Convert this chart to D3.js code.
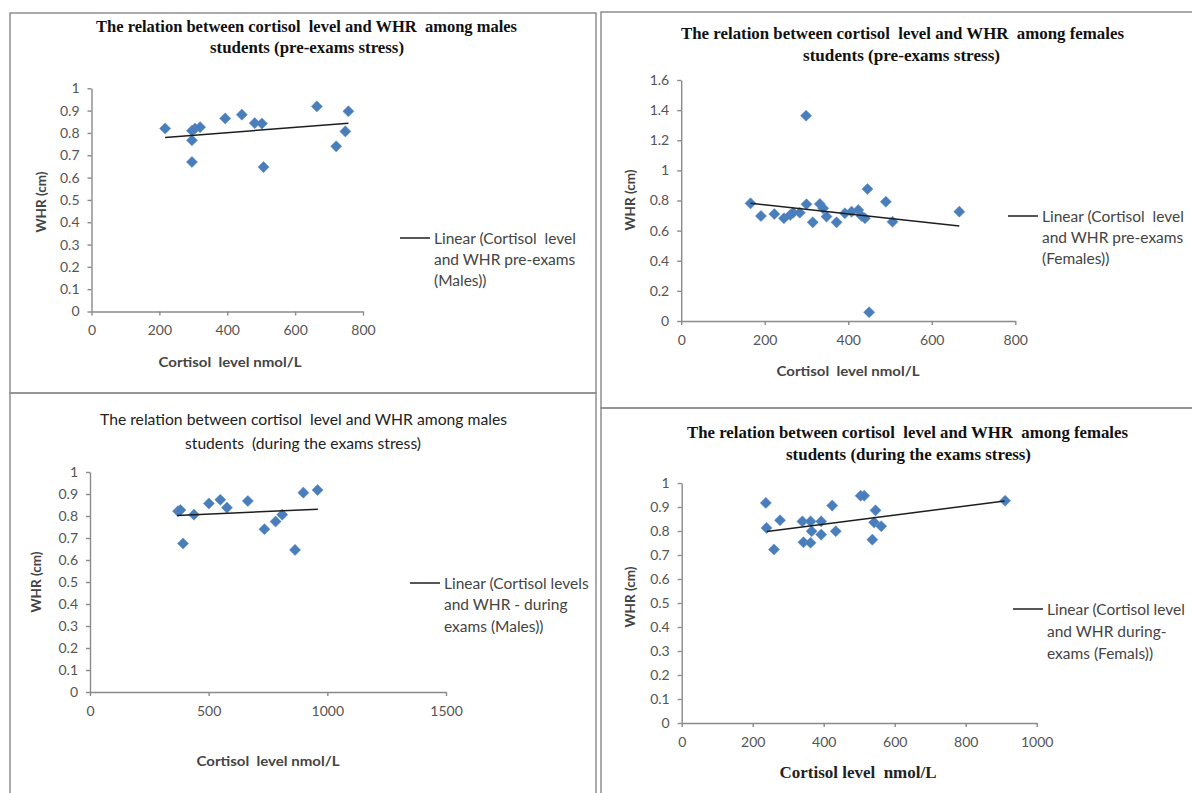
<!DOCTYPE html>
<html><head><meta charset="utf-8">
<script src="https://cdn.jsdelivr.net/npm/d3@7"></script>
<style>body{margin:0;background:#fff;} svg{display:block;} text{white-space:pre;}</style>
</head><body><svg id="c" width="1192" height="793"></svg>
<script>
// ---------- DATA ----------
// Panel 1: males, pre-exams
const p1Cortisol = [217, 296, 305, 320, 296, 296, 394, 443, 481, 502, 507, 664, 721, 748, 757];
const p1WHR      = [0.82, 0.81, 0.82, 0.826, 0.767, 0.67, 0.865, 0.882, 0.844, 0.842, 0.647, 0.919, 0.74, 0.807, 0.897];
const p1TrendX = [217, 757];
const p1TrendY = [0.780, 0.843];
// Panel 2: females, pre-exams
const p2Cortisol = [166,191,223,246,261,268,284,300,299,315,332,340,348,372,392,408,424,432,440,446,450,490,506,666];
const p2WHR      = [0.781,0.697,0.71,0.682,0.704,0.719,0.719,0.775,1.363,0.655,0.777,0.748,0.693,0.655,0.715,0.726,0.737,0.697,0.682,0.876,0.058,0.792,0.659,0.726];
const p2TrendX = [166, 666];
const p2TrendY = [0.781, 0.631];
// Panel 3: males, during exams
const p3Cortisol = [371,381,438,392,501,549,577,665,735,782,810,864,899,959];
const p3WHR      = [0.822,0.827,0.806,0.675,0.857,0.874,0.838,0.868,0.74,0.775,0.806,0.646,0.906,0.918];
const p3TrendX = [367, 960];
const p3TrendY = [0.802, 0.831];
// Panel 4: females, during exams
const p4Cortisol = [237,239,260,277,340,343,363,363,366,393,393,424,434,504,514,537,546,542,562,911];
const p4WHR      = [0.917,0.813,0.723,0.845,0.840,0.753,0.840,0.751,0.799,0.840,0.785,0.906,0.799,0.947,0.947,0.764,0.886,0.836,0.820,0.926];
const p4TrendX = [240, 910];
const p4TrendY = [0.798, 0.925];

// tick values
const xTicks800  = [0, 200, 400, 600, 800];
const xTicks1500 = [0, 500, 1000, 1500];
const xTicks1000 = [0, 200, 400, 600, 800, 1000];
const yTicks1    = [0, 0.1, 0.2, 0.3, 0.4, 0.5, 0.6, 0.7, 0.8, 0.9, 1];
const yTicks16   = [0, 0.2, 0.4, 0.6, 0.8, 1, 1.2, 1.4, 1.6];

// texts
const titles = [
  ["The relation between cortisol  level and WHR  among males", "students (pre-exams stress)"],
  ["The relation between cortisol  level and WHR  among females", "students (pre-exams stress)"],
  ["The relation between cortisol  level and WHR among males", "students  (during the exams stress)"],
  ["The relation between cortisol  level and WHR  among females", "students (during the exams stress)"]
];
const legends = [
  ["Linear (Cortisol  level", "and WHR pre-exams", "(Males))"],
  ["Linear (Cortisol  level", "and WHR pre-exams", "(Females))"],
  ["Linear (Cortisol levels", "and WHR - during", "exams (Males))"],
  ["Linear (Cortisol level", "and WHR during-", "exams (Femals))"]
];
const xTitles = ["Cortisol  level nmol/L", "Cortisol  level nmol/L", "Cortisol  level nmol/L", "Cortisol level  nmol/L"];
const yTitle = "WHR (cm)";

// ---------- DRAW ----------
const svg = d3.select("#c");
const SANS = "Lato, 'Open Sans', sans-serif";
const SERIF = "'Liberation Serif', 'DejaVu Serif', serif";
const AXIS_COL = "#8a8a8a";
const TEXT_COL = "#555";
const MARK = "#4a7ebb";

// panel borders
const borders = svg.append("g").attr("fill", "none").attr("stroke", "#8f8f8f").attr("stroke-width", 1.5);
borders.append("rect").attr("x", 10).attr("y", 13).attr("width", 586).attr("height", 380);
borders.append("rect").attr("x", 10).attr("y", 393).attr("width", 586).attr("height", 420);
borders.append("rect").attr("x", 601).attr("y", 12).attr("width", 620).attr("height", 396);
borders.append("rect").attr("x", 601).attr("y", 408).attr("width", 620).attr("height", 420);

const panels = [
  { xs: p1Cortisol, ys: p1WHR, tx: p1TrendX, ty: p1TrendY, xDom: [0, 800], xRange: [91.5, 363], yDom: [0, 1], yRange: [311.5, 88.3],
    xTicks: xTicks800, yTicks: yTicks1, title: titles[0], titleSerif: true, t1: [96, 517], t2: [210, 404], titleY: [26, 47],
    legend: legends[0], legX: 400, legY: [238, 259, 280], xTitle: xTitles[0], xTitleX: 230, xTitleY: 361, xTitleW: 143, xTitleSerif: false,
    yTitleX: 41, yTitleY: 202 },
  { xs: p2Cortisol, ys: p2WHR, tx: p2TrendX, ty: p2TrendY, xDom: [0, 800], xRange: [681.2, 1015.3], yDom: [0, 1.6], yRange: [321, 80],
    xTicks: xTicks800, yTicks: yTicks16, title: titles[1], titleSerif: true, t1: [681, 1124], t2: [803, 1000], titleY: [33, 55],
    legend: legends[1], legX: 1008, legY: [216, 237, 258], xTitle: xTitles[1], xTitleX: 848, xTitleY: 370, xTitleW: 143, xTitleSerif: false,
    yTitleX: 630, yTitleY: 200 },
  { xs: p3Cortisol, ys: p3WHR, tx: p3TrendX, ty: p3TrendY, xDom: [0, 1500], xRange: [90, 446], yDom: [0, 1], yRange: [692, 472],
    xTicks: xTicks1500, yTicks: yTicks1, title: titles[2], titleSerif: false, t1: [100, 507], t2: [185, 421], titleY: [419, 443],
    legend: legends[2], legX: 410, legY: [583, 604, 626], xTitle: xTitles[2], xTitleX: 268, xTitleY: 760, xTitleW: 143, xTitleSerif: false,
    yTitleX: 36, yTitleY: 582 },
  { xs: p4Cortisol, ys: p4WHR, tx: p4TrendX, ty: p4TrendY, xDom: [0, 1000], xRange: [681.7, 1036.7], yDom: [0, 1], yRange: [723, 483],
    xTicks: xTicks1000, yTicks: yTicks1, title: titles[3], titleSerif: true, t1: [687, 1128], t2: [786, 1031], titleY: [432, 454],
    legend: legends[3], legX: 1013, legY: [609, 631, 653], xTitle: xTitles[3], xTitleX: 858, xTitleY: 772, xTitleW: 157, xTitleSerif: true,
    yTitleX: 630, yTitleY: 597 }
];

const fmt = d3.format("~g");
const diamond = d3.symbol().type(d3.symbolSquare).size(62);

panels.forEach((p, i) => {
  const g = svg.append("g");
  const x = d3.scaleLinear().domain(p.xDom).range(p.xRange);
  const y = d3.scaleLinear().domain(p.yDom).range(p.yRange);

  // title
  const tt = g.append("g").attr("fill", p.titleSerif ? "#111" : "#222")
    .attr("font-family", p.titleSerif ? SERIF : SANS)
    .attr("font-weight", p.titleSerif ? "bold" : "normal")
    .attr("font-size", p.titleSerif ? 16 : 15)
    .attr("text-anchor", "middle").attr("dominant-baseline", "central");
  [p.t1, p.t2].forEach((ext, k) => {
    tt.append("text").attr("x", (ext[0] + ext[1]) / 2).attr("y", p.titleY[k]).text(p.title[k])
      .attr("textLength", ext[1] - ext[0]).attr("lengthAdjust", "spacingAndGlyphs");
  });

  // x axis
  const xa = g.append("g").attr("transform", `translate(0,${y(0)})`)
    .call(d3.axisBottom(x).tickValues(p.xTicks).tickFormat(fmt).tickSize(4).tickSizeOuter(0).tickPadding(10));
  // y axis
  const ya = g.append("g").attr("transform", `translate(${x(0)},0)`)
    .call(d3.axisLeft(y).tickValues(p.yTicks).tickFormat(fmt).tickSize(4).tickSizeOuter(0).tickPadding(8));
  [xa, ya].forEach(a => {
    a.select(".domain").attr("stroke", AXIS_COL).attr("stroke-width", 1.4);
    a.selectAll(".tick line").attr("stroke", AXIS_COL).attr("stroke-width", 1.4);
    a.selectAll(".tick text").attr("fill", TEXT_COL).attr("font-family", SANS).attr("font-size", 14);
  });

  // axis titles
  g.append("text").attr("x", p.xTitleX).attr("y", p.xTitleY)
    .attr("text-anchor", "middle").attr("dominant-baseline", "central")
    .attr("font-family", p.xTitleSerif ? SERIF : SANS).attr("font-weight", "bold")
    .attr("font-size", p.xTitleSerif ? 16 : 14).attr("fill", p.xTitleSerif ? "#222" : "#444")
    .attr("textLength", p.xTitleW).attr("lengthAdjust", "spacingAndGlyphs")
    .text(p.xTitle);
  g.append("text").attr("transform", `translate(${p.yTitleX},${p.yTitleY}) rotate(-90)`)
    .attr("text-anchor", "middle").attr("dominant-baseline", "central")
    .attr("font-family", SANS).attr("font-weight", "bold").attr("font-size", 13.5).attr("fill", "#444")
    .text(yTitle);

  // points
  const pts = p.xs.map((v, k) => ({ cx: v, wy: p.ys[k] }));
  g.append("g").selectAll("path").data(pts).join("path")
    .attr("d", diamond)
    .attr("transform", d => `translate(${x(d.cx)},${y(d.wy)}) rotate(45)`)
    .attr("fill", MARK).attr("stroke", "#5a8cc8").attr("stroke-width", 0.5);

  // trend line
  const tl = p.tx.map((v, k) => [v, p.ty[k]]);
  g.append("path").datum(tl)
    .attr("d", d3.line().x(d => x(d[0])).y(d => y(d[1])))
    .attr("fill", "none").attr("stroke", "#1e1e1e").attr("stroke-width", 1.5);

  // legend
  const lg = g.append("g");
  lg.append("line").attr("x1", p.legX).attr("x2", p.legX + 30)
    .attr("y1", p.legY[0]).attr("y2", p.legY[0]).attr("stroke", "#1e1e1e").attr("stroke-width", 1.5);
  p.legend.forEach((t, k) => {
    lg.append("text").attr("x", p.legX + 34).attr("y", p.legY[k]).attr("dominant-baseline", "central")
      .attr("font-family", SANS).attr("font-size", 15.5).attr("fill", "#444").text(t);
  });
});
</script></body></html>
